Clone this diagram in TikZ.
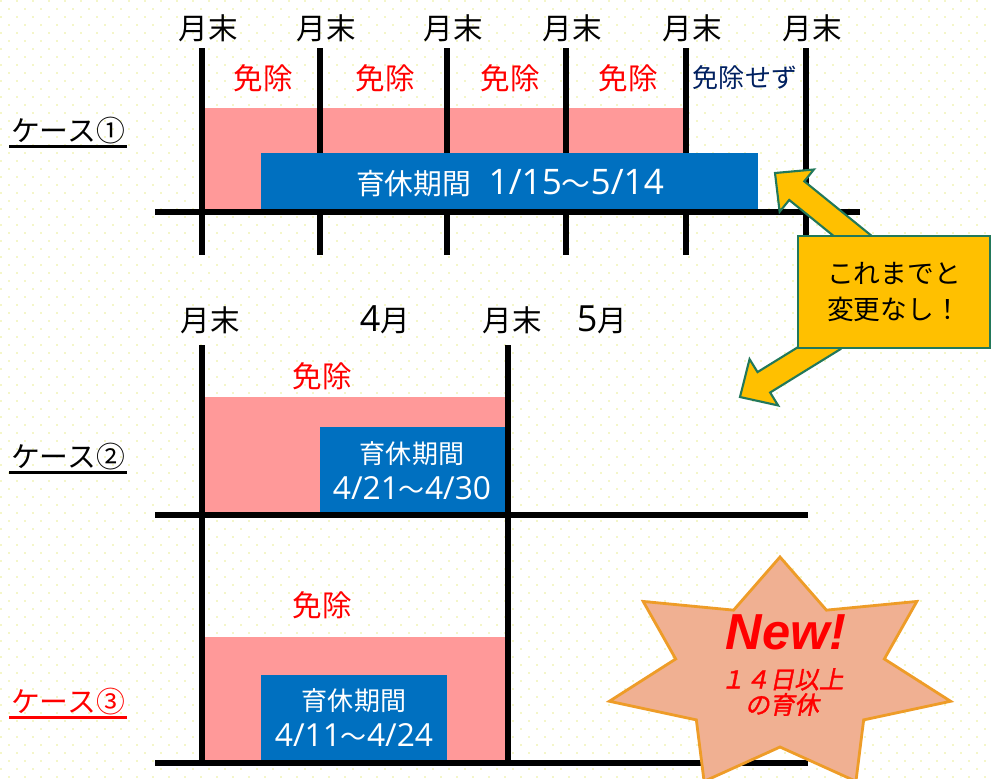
\documentclass[tikz,border=0pt]{standalone}
\usepackage{fontspec}
\setmainfont{Noto Sans CJK JP}
\newfontfamily\newLatin{Liberation Sans}
\newfontfamily\digitFont[Scale=1.22]{Open Sans}
\newfontfamily\newJapanese[FakeSlant=0.2,FakeBold=1.5]{Noto Sans CJK JP}
\usetikzlibrary{calc}

\definecolor{exemptPink}{RGB}{255,153,153}
\definecolor{leaveBlue}{RGB}{0,112,192}
\definecolor{navyText}{RGB}{0,32,96}
\definecolor{noteYellow}{RGB}{255,192,0}
\definecolor{noteGreen}{RGB}{34,120,90}
\definecolor{starFill}{RGB}{240,176,146}
\definecolor{starLine}{RGB}{238,156,40}
\definecolor{dotYellow}{RGB}{244,246,200}

\def\dgt#1{{\digitFont #1}}
\def\drawDots{%
\foreach \row in {0,...,97}{
  \foreach \col in {0,...,62}{
    \fill[dotYellow] ({\col*16+8*mod(\row,2)},{\row*8}) rectangle +(2,2);
  }
}
}
\def\blockArrow#1#2{%
\coordinate (baseMid) at ($(#2)!0.7cm!(#1)$);
\filldraw[noteArrow] ($(#1)!0.3cm!90:(#2)$) -- ($(baseMid)!0.3cm!-90:(#1)$)
  -- ($(baseMid)!0.68cm!-90:(#1)$) -- (#2) -- ($(baseMid)!0.68cm!90:(#1)$)
  -- ($(baseMid)!0.3cm!90:(#1)$) -- ($(#1)!0.3cm!-90:(#2)$) -- cycle;
}

\begin{document}
\begin{tikzpicture}[x=0.025cm, y=-0.025cm]

% styles
\tikzstyle{axis}=[line width=3.6pt]
\tikzstyle{monthEnd}=[text=black, font=\fontsize{21}{25}\selectfont, inner sep=0pt]
\tikzstyle{exemptText}=[text=red, font=\fontsize{21}{25}\selectfont, inner sep=0pt]
\tikzstyle{noExemptText}=[text=navyText, font=\fontsize{18.5}{22}\selectfont, inner sep=0pt]
\tikzstyle{leaveText}=[text=white, align=center, font=\fontsize{18.5}{25.6}\selectfont, inner sep=0pt]
\tikzstyle{caseLabel}=[font=\fontsize{20.5}{24}\selectfont, inner sep=1pt]
\tikzstyle{caseLine}=[line width=2pt]

\tikzstyle{noteBox}=[rectangle, fill=noteYellow, draw=noteGreen, line width=1.5pt, align=center,
  minimum width=4.8cm, minimum height=2.78cm, font=\fontsize{19}{25.6}\selectfont]
\tikzstyle{noteArrow}=[fill=noteYellow, draw=noteGreen, line width=1.5pt, line join=miter]
\tikzstyle{newStar}=[fill=starFill, draw=starLine, line width=2pt, line join=miter]

% background
\useasboundingbox (0,0) rectangle (992,778);
\fill[white] (0,0) rectangle (992,778);
\drawDots

% case 1
\fill[exemptPink] (202,108) rectangle (686,212);
\foreach \x/\n in {202/a,320/b,447/c,566/d,686/e,806/f}{
  \draw[axis] (\x,48) -- (\x,255);
  \node[monthEnd] (top\n) at (\x+6,28) {月末};
}
\fill[leaveBlue] (261,153) rectangle (758,210);
\node[leaveText, font=\fontsize{20.5}{24}\selectfont] (leave1) at (510,183) {育休期間\hspace{0.6em}\dgt{1/15}～\dgt{5/14}};
\draw[axis] (155,212) -- (860,212);

\node[exemptText] (ex1a) at (263,78) {免除};
\node[exemptText] (ex1b) at (385,78) {免除};
\node[exemptText] (ex1c) at (510,78) {免除};
\node[exemptText] (ex1d) at (628,78) {免除};
\node[noExemptText] (ex1e) at (745,78) {免除せず};

\node[caseLabel] (case1) at (68,131) {ケース①};
\draw[caseLine] (case1.south west) -- (case1.south east);

% case 2 and 3
\fill[exemptPink] (202,397) rectangle (508,515);
\fill[exemptPink] (202,637) rectangle (508,763);
\draw[axis] (202,345) -- (202,765);
\draw[axis] (508,345) -- (508,765);

\node[monthEnd] (midA) at (210,320) {月末};
\node[monthEnd] (midB) at (385,320) {\dgt{4}月};
\node[monthEnd] (midC) at (512,320) {月末};
\node[monthEnd] (midD) at (602,320) {\dgt{5}月};

\fill[leaveBlue] (320,427) rectangle (505,512);
\node[leaveText] (leave2) at (412,471) {育休期間\\\dgt{4/21}～\dgt{4/30}};
\fill[leaveBlue] (261,675) rectangle (447,760);
\node[leaveText] (leave3) at (354,718) {育休期間\\\dgt{4/11}～\dgt{4/24}};

\draw[axis] (155,515) -- (808,515);
\draw[axis] (155,763) -- (808,763);

\node[exemptText] (ex2) at (322,376) {免除};
\node[exemptText] (ex3) at (322,605) {免除};

\node[caseLabel] (case2) at (68,457) {ケース②};
\draw[caseLine] (case2.south west) -- (case2.south east);
\node[caseLabel, text=red] (case3) at (68,702) {ケース③};
\draw[caseLine, red] (case3.south west) -- (case3.south east);

% callout
\coordinate (tail1) at (870,250);
\coordinate (tip1) at (775,173);
\coordinate (tail2) at (834,339);
\coordinate (tip2) at (740,397);
\blockArrow{tail1}{tip1}
\blockArrow{tail2}{tip2}
\node[noteBox] (note) at (894,292) {これまでと\\変更なし！};

% new star
\filldraw[newStar] (780,557) \foreach \k in {0,...,6}{
  -- ({780+107*cos(90+(\k+0.5)*360/7)},{675-72*sin(90+(\k+0.5)*360/7)})
  -- ({780+175*cos(90+(\k+1)*360/7)},{675-118*sin(90+(\k+1)*360/7)})
} -- cycle;
\node[text=red, font=\fontsize{36}{38}\selectfont\newLatin\bfseries\itshape, inner sep=0pt] (newMark) at (786,632) {New!};
\node[text=red, align=center, font=\fontsize{17.5}{18}\selectfont\newJapanese, inner sep=0pt] (newText) at (782,692) {１４日以上\\の育休};

\end{tikzpicture}
\end{document}
